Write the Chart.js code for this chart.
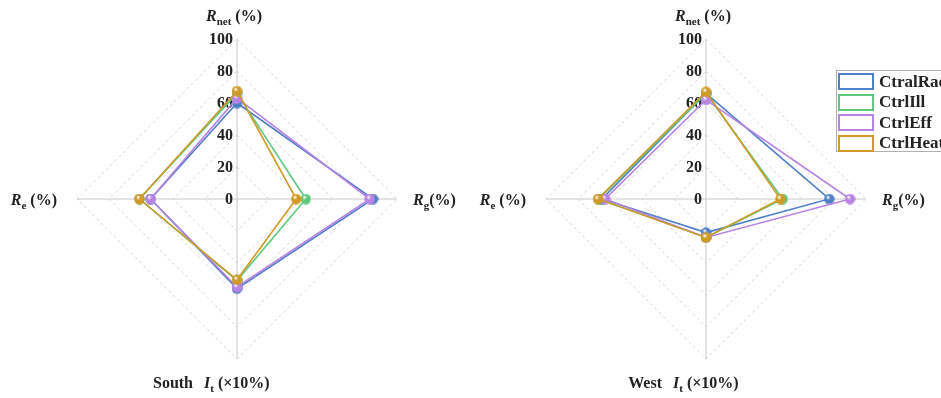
<!DOCTYPE html>
<html>
<head>
<meta charset="utf-8">
<script src="https://cdn.jsdelivr.net/npm/chart.js@4.4.0/dist/chart.umd.min.js"></script>
<style>
    body { margin: 0; background: #fff; overflow: hidden; width: 941px; height: 398px; position: relative; }
    .panel { position: absolute; top: 0; height: 398px; }
    #legend {
        position: absolute; left: 836px; top: 70px; width: 130px; height: 82px;
        border: 1px solid #b0b0b0; background: #fff; box-sizing: border-box;
        font: bold 17px "Liberation Serif", serif; color: #222;
    }
    .row { position: absolute; left: 1px; height: 17px; display: flex; align-items: center; }
    .sw { width: 32px; height: 13px; border: 2px solid; margin-right: 5px; }
</style>
</head>
<body>
<div class="panel" style="left:0;width:470px"><canvas id="south"></canvas></div>
<div class="panel" style="left:470px;width:471px"><canvas id="west"></canvas></div>
<div id="legend"></div>

<script>
// --- Data ---
const axes = ['Rnet', 'Rg', 'It', 'Re'];
const seriesNames = ['CtralRad', 'CtrlIll', 'CtrlEff', 'CtrlHeat'];
const seriesColors = ['#4f7fc6', '#5ec97f', '#b783e4', '#d09a27'];
const tickValues = [0, 20, 40, 60, 80, 100];

// order of values follows axes: Rnet, Rg, It, Re
const southRad = [60, 85, 56, 54];
const southIll = [66, 43, 51, 61];
const southEff = [63, 83, 55, 54];
const southHeat = [67.5, 37, 50.5, 61];

const westRad = [66, 77, 21, 65];
const westIll = [66, 48, 24, 67];
const westEff = [62, 90, 24, 63];
const westHeat = [67, 46.5, 24, 67.5];

const serif = '"Liberation Serif", "Times New Roman", serif';

// little shaded ball used as point style
function makeBall(color) {
    const c = document.createElement('canvas');
    c.width = 11; c.height = 11;
    const g = c.getContext('2d');
    const grad = g.createRadialGradient(4, 3.5, 0.5, 5.5, 5.5, 5.5);
    grad.addColorStop(0, '#ffffff');
    grad.addColorStop(0.35, color);
    grad.addColorStop(1, color);
    g.fillStyle = grad;
    g.beginPath();
    g.arc(5.5, 5.5, 5.2, 0, Math.PI * 2);
    g.fill();
    return c;
}

// draws the tick numbers to the left of the top axis
const tickPlugin = {
    id: 'sideTicks',
    beforeDatasetsDraw(chart) {
        const r = chart.scales.r;
        const ctx = chart.ctx;
        ctx.save();
        ctx.font = 'bold 16px ' + serif;
        ctx.fillStyle = '#222';
        ctx.textAlign = 'right';
        ctx.textBaseline = 'middle';
        tickValues.forEach(v => {
            const y = r.yCenter - r.getDistanceFromCenterForValue(v);
            ctx.fillText(String(v), r.xCenter - 4, y + 1);
        });
        ctx.restore();
    }
};

// axis titles with italic letter and subscript
function drawRich(ctx, parts, x, y, align) {
    let total = 0;
    parts.forEach(p => { ctx.font = p.font; p.w = ctx.measureText(p.t).width; total += p.w; });
    let cx = align === 'center' ? x - total / 2 : align === 'right' ? x - total : x;
    parts.forEach(p => {
        ctx.font = p.font;
        ctx.fillText(p.t, cx, y + (p.dy || 0));
        cx += p.w;
    });
}

function axisTitle(letter, sub, rest) {
    return [
        { t: letter, font: 'italic bold 16px ' + serif },
        { t: sub, font: 'bold 11px ' + serif, dy: 4 },
        { t: rest, font: 'bold 16px ' + serif }
    ];
}

function makeTitlePlugin(panelName) {
    return {
        id: 'axisTitles',
        afterDraw(chart) {
            const r = chart.scales.r;
            const ctx = chart.ctx;
            const cx = r.xCenter, cy = r.yCenter;
            ctx.save();
            ctx.fillStyle = '#222';
            ctx.textBaseline = 'alphabetic';
            ctx.textAlign = 'left';
            drawRich(ctx, axisTitle('R', 'net', ' (%)'), cx - 3, cy - 178, 'center');
            drawRich(ctx, axisTitle('R', 'g', '(%)'), cx + 176, cy + 6, 'left');
            drawRich(ctx, axisTitle('R', 'e', ' (%)'), cx - 180, cy + 6, 'right');
            drawRich(ctx, axisTitle('I', 't', ' (\u00d710%)'), cx - 33, cy + 189, 'left');
            ctx.font = 'bold 16px ' + serif;
            ctx.textAlign = 'right';
            ctx.fillText(panelName, cx - 44, cy + 189);
            ctx.restore();
        }
    };
}

function buildChart(canvasId, values, panelName, padLeft, padRight) {
    const datasets = values.map((vals, i) => ({
        label: seriesNames[i],
        data: vals,
        borderColor: seriesColors[i],
        backgroundColor: 'transparent',
        borderWidth: 1.6,
        fill: false,
        pointStyle: makeBall(seriesColors[i]),
        pointRadius: 5,
        order: values.length - i
    }));

    return new Chart(document.getElementById(canvasId), {
        type: 'radar',
        data: { labels: axes, datasets: datasets },
        options: {
            responsive: true,
            maintainAspectRatio: false,
            animation: false,
            layout: { padding: { left: padLeft, right: padRight, top: 39, bottom: 39 } },
            plugins: { legend: { display: false }, tooltip: { enabled: false } },
            scales: {
                r: {
                    min: 0,
                    max: 100,
                    ticks: { display: false, stepSize: 20 },
                    pointLabels: { display: false },
                    grid: { color: '#d8d8d8', lineWidth: 1 },
                    border: { dash: [3, 3] },
                    angleLines: { color: '#c8c8c8', lineWidth: 1 }
                }
            }
        },
        plugins: [tickPlugin, makeTitlePlugin(panelName)]
    });
}

buildChart('south', [southRad, southIll, southEff, southHeat], 'South', 77, 73);
buildChart('west', [westRad, westIll, westEff, westHeat], 'West', 76, 75);

// legend box
const legend = document.getElementById('legend');
seriesNames.forEach((name, i) => {
    const row = document.createElement('div');
    row.className = 'row';
    row.style.top = (2 + i * 20.5) + 'px';
    const sw = document.createElement('span');
    sw.className = 'sw';
    sw.style.borderColor = seriesColors[i];
    row.appendChild(sw);
    row.appendChild(document.createTextNode(name));
    legend.appendChild(row);
});
</script>
</body>
</html>
